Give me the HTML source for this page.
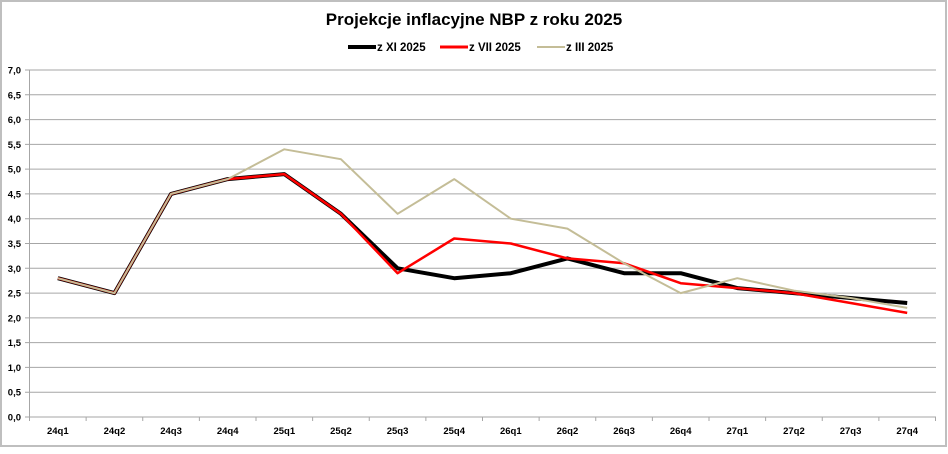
<!DOCTYPE html><html><head><meta charset="utf-8"><style>
body{margin:0;background:#fff;font-family:"Liberation Sans",sans-serif}
</style></head><body>
<svg id="s" width="948" height="449" xmlns="http://www.w3.org/2000/svg" font-family="Liberation Sans, sans-serif">
<rect x="1" y="1" width="945" height="445" fill="#fff" stroke="#bfbfbf" stroke-width="2"/>
<text x="474" y="25" text-anchor="middle" font-size="17" font-weight="bold" fill="#000">Projekcje inflacyjne NBP z roku 2025</text>
<line x1="348" y1="47" x2="376" y2="47" stroke="#000" stroke-width="4"/>
<text x="377" y="51" font-size="11.5" font-weight="bold">z XI 2025</text>
<line x1="440" y1="47" x2="468" y2="47" stroke="#f00" stroke-width="3"/>
<text x="469" y="51" font-size="11.5" font-weight="bold">z VII 2025</text>
<line x1="537" y1="47" x2="565" y2="47" stroke="#c4bd97" stroke-width="2"/>
<text x="566" y="51" font-size="11.5" font-weight="bold">z III 2025</text>
<g id="g"></g>
</svg>
<script>
var g=document.getElementById('g'),h='';
function Y(v){return 417-v*49.57}
for(var i=0;i<=14;i++){var v=i*0.5,y=Y(v);
h+='<line x1="25" x2="936" y1="'+y+'" y2="'+y+'" stroke="#a6a6a6" stroke-width="1"/>';
h+='<text x="21" y="'+(y+3.5)+'" font-size="9.5" font-weight="bold" text-anchor="end">'+v.toFixed(1).replace('.',',')+'</text>';}
h+='<line x1="29.5" x2="29.5" y1="70" y2="421" stroke="#a6a6a6"/>';
var labs=['24q1','24q2','24q3','24q4','25q1','25q2','25q3','25q4','26q1','26q2','26q3','26q4','27q1','27q2','27q3','27q4'];
var sp=906/16;
for(var i=0;i<16;i++){var x=29.5+sp*(i+1);
h+='<line x1="'+x+'" x2="'+x+'" y1="417" y2="421" stroke="#a6a6a6"/>';
h+='<text x="'+(29.5+sp*(i+0.5))+'" y="434" font-size="9.5" font-weight="bold" text-anchor="middle">'+labs[i]+'</text>';}
function L(d,c,w){var p=d.map(function(v,i){return (29.5+sp*(i+0.5)).toFixed(1)+','+Y(v).toFixed(1)}).join(' ');
h+='<polyline points="'+p+'" fill="none" stroke="'+c+'" stroke-width="'+w+'" stroke-linejoin="round"/>';}
L([2.8,2.5,4.5,4.8,4.9,4.1,3.0,2.8,2.9,3.2,2.9,2.9,2.6,2.5,2.4,2.3],'#000',4);
L([2.8,2.5,4.5,4.8,4.9,4.1,2.9,3.6,3.5,3.2,3.1,2.7,2.6,2.5,2.3,2.1],'#f00',2.5);
L([2.8,2.5,4.5,4.8,5.4,5.2,4.1,4.8,4.0,3.8,3.1,2.5,2.8,2.55,2.4,2.2],'#c4bd97',2);
g.innerHTML=h;
</script>
</body></html>
